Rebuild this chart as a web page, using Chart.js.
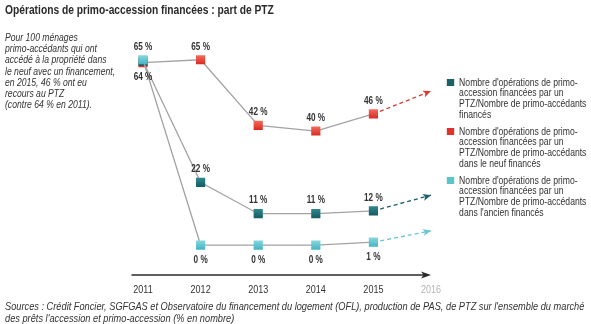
<!DOCTYPE html>
<html lang="fr">
<head>
<meta charset="utf-8">
<script src="https://cdn.jsdelivr.net/npm/chart.js@4/dist/chart.umd.min.js"></script>
<style>
    body { margin: 0; background: #fff; }
    #wrap { position: relative; width: 591px; height: 324px; overflow: hidden; font-family: "Liberation Sans", Arial, sans-serif; color: #333; }
    #chart { position: absolute; left: 0; top: 0; }
    /* Arial Narrow look: Liberation Sans squeezed horizontally */
    .narrow { position: absolute; white-space: nowrap; transform: scaleX(0.82); transform-origin: 0 0; }
    .title { left: 5px; top: 3px; font-size: 12.5px; font-weight: bold; color: #2a2a2a; }
    .note { left: 5px; top: 32px; font-size: 10.5px; line-height: 11.2px; font-style: italic; }
    .legend { left: 446px; top: 76.5px; font-size: 10.5px; line-height: 10.7px; }
    .legend .item { position: relative; padding-left: 16px; margin-bottom: 6.2px; }
    .legend .box { position: absolute; left: 1px; top: 2px; width: 9px; height: 7px; }
    .sources { left: 5px; top: 301px; font-size: 10.5px; line-height: 11.5px; font-style: italic; transform: scaleX(0.88); }
</style>
</head>
<body>
<div id="wrap">
    <canvas id="chart" width="591" height="324"></canvas>
    <div class="narrow title">Opérations de primo-accession financées : part de PTZ</div>
    <div class="narrow note">Pour 100 ménages<br>primo-accédants qui ont<br>accédé à la propriété dans<br>le neuf avec un financement,<br>en 2015, 46 % ont eu<br>recours au PTZ<br>(contre 64 % en 2011).</div>
    <div class="narrow legend" id="legend"></div>
    <div class="narrow sources">Sources : Crédit Foncier, SGFGAS et Observatoire du financement du logement (OFL), production de PAS, de PTZ sur l'ensemble du marché<br>des prêts l'accession et primo-accession (% en nombre)</div>
</div>
<script>
// Part des opérations financées par un PTZ (%)
const YEARS = [2011, 2012, 2013, 2014, 2015];
const PTZ_TOTAL = [64.5, 22, 11, 11, 12];
const PTZ_NEUF = [64, 65, 42, 40, 46];
const PTZ_ANCIEN = [65, 0, 0, 0, 1];

// Tendance 2015 -> 2016 (flèches pointillées)
const TREND_YEARS = [2015, 2016];
const TREND_TOTAL = [12, 17.5];
const TREND_NEUF = [46, 54];
const TREND_ANCIEN = [1, 5];

const AXIS_YEARS = [2011, 2012, 2013, 2014, 2015, 2016];

const SERIES_NAMES = [
    "Nombre d'opérations de primo-\naccession financées par un\nPTZ/Nombre de primo-accédants\nfinancés",
    "Nombre d'opérations de primo-\naccession financées par un\nPTZ/Nombre de primo-accédants\ndans le neuf financés",
    "Nombre d'opérations de primo-\naccession financées par un\nPTZ/Nombre de primo-accédants\ndans l'ancien financés"
];
const SERIES_COLORS = ["#1b6169", "#e0302a", "#5bc3cc"];

const FONT = '"Liberation Sans", Arial, sans-serif';
const SQUEEZE = 0.82;

let pairs = (xs, ys) => xs.map((x, i) => ({ x: x, y: ys[i] })),
    // condensed text on the canvas
    narrowText = (ctx, text, x, y) => {
        ctx.save();
        ctx.translate(x, y);
        ctx.scale(SQUEEZE, 1);
        ctx.fillText(text, 0, 0);
        ctx.restore();
    },
    // square markers are shaded lighter on top
    shade = (top, bottom) => (c) => {
        if (!c.parsed || !c.chart.chartArea) return bottom;
        let py = c.chart.scales.y.getPixelForValue(c.parsed.y),
            g = c.chart.ctx.createLinearGradient(0, py - 5, 0, py + 5);
        g.addColorStop(0, top);
        g.addColorStop(1, bottom);
        return g;
    },
    series = (data, top, bottom, labels, order) => ({
        data: data,
        borderColor: "#a3a3a3",
        borderWidth: 1.3,
        pointStyle: "rect",
        pointRadius: 6.5,
        pointHoverRadius: 6.5,
        pointBorderWidth: 0,
        pointBackgroundColor: shade(top, bottom),
        valueLabels: labels,
        order: order
    }),
    trend = (data, color) => ({
        data: data,
        borderColor: color,
        borderWidth: 1.3,
        borderDash: [4, 3],
        pointRadius: 0,
        arrow: true,
        order: 5
    });

// "65 %" style labels over / under the markers
const valueLabels = {
    id: "valueLabels",
    afterDatasetsDraw(chart) {
        let ctx = chart.ctx;
        ctx.save();
        ctx.font = "bold 10px " + FONT;
        ctx.fillStyle = "#333";
        ctx.textAlign = "center";
        ctx.textBaseline = "middle";
        chart.data.datasets.forEach((ds, i) => {
            if (!ds.valueLabels) return;
            chart.getDatasetMeta(i).data.forEach((pt, j) => {
                let where = ds.valueLabels[j];
                if (!where) return;
                narrowText(ctx, ds.data[j].y + " %", pt.x, where == "above" ? pt.y - 13 : pt.y + 15);
            });
        });
        ctx.restore();
    }
};

// time axis with arrow, year labels, and arrow heads on the dashed trends
const timeAxis = {
    id: "timeAxis",
    afterDatasetsDraw(chart) {
        let ctx = chart.ctx,
            area = chart.chartArea,
            x = chart.scales.x,
            head = (px, py, angle, color, len, half) => {
                ctx.save();
                ctx.translate(px, py);
                ctx.rotate(angle);
                ctx.fillStyle = color;
                ctx.beginPath();
                ctx.moveTo(0, 0);
                ctx.lineTo(-len, -half);
                ctx.lineTo(-len * 0.75, 0);
                ctx.lineTo(-len, half);
                ctx.closePath();
                ctx.fill();
                ctx.restore();
            };
        chart.data.datasets.forEach((ds, i) => {
            if (!ds.arrow) return;
            let pts = chart.getDatasetMeta(i).data,
                a = pts[pts.length - 2],
                b = pts[pts.length - 1];
            head(b.x, b.y, Math.atan2(b.y - a.y, b.x - a.x), ds.borderColor, 8, 3.5);
        });
        ctx.save();
        ctx.strokeStyle = "#2a2a2a";
        ctx.lineWidth = 1.3;
        ctx.beginPath();
        ctx.moveTo(area.left, area.bottom);
        ctx.lineTo(area.right - 4, area.bottom);
        ctx.stroke();
        head(area.right, area.bottom, 0, "#2a2a2a", 10, 3.5);
        ctx.font = "11px " + FONT;
        ctx.textAlign = "center";
        ctx.textBaseline = "middle";
        AXIS_YEARS.forEach(year => {
            ctx.fillStyle = year == 2016 ? "#b3b3b3" : "#333";
            narrowText(ctx, String(year), x.getPixelForValue(year), area.bottom + 15);
        });
        ctx.restore();
    }
};

let chart = new Chart(document.getElementById("chart"), {
    type: "line",
    data: {
        datasets: [
            series(pairs(YEARS, PTZ_ANCIEN), "#8ad8e0", "#3fb4c1", ["above", "below", "below", "below", "below"], 1),
            series(pairs(YEARS, PTZ_TOTAL), "#2f8a93", "#145860", [null, "above", "above", "above", "above"], 2),
            series(pairs(YEARS, PTZ_NEUF), "#f4705f", "#d8261f", ["below", "above", "above", "above", "above"], 3),
            trend(pairs(TREND_YEARS, TREND_NEUF), "#d93a33"),
            trend(pairs(TREND_YEARS, TREND_TOTAL), "#1d5f68"),
            trend(pairs(TREND_YEARS, TREND_ANCIEN), "#66c6cf")
        ]
    },
    options: {
        responsive: false,
        animation: false,
        layout: { padding: { left: 131.5, right: 160, top: 45.5, bottom: 49 } },
        plugins: {
            legend: { display: false },
            tooltip: { enabled: false }
        },
        scales: {
            x: { type: "linear", display: false, min: 2010.8, max: 2016 },
            y: { display: false, min: -10.5, max: 70 }
        }
    },
    plugins: [valueLabels, timeAxis]
});

// legend built from the series names and colours
document.getElementById("legend").innerHTML = SERIES_NAMES.map((name, i) =>
    '<div class="item"><span class="box" style="background:' + SERIES_COLORS[i] + '"></span>' + name.split("\n").join("<br>") + '</div>'
).join("");
</script>
</body>
</html>
